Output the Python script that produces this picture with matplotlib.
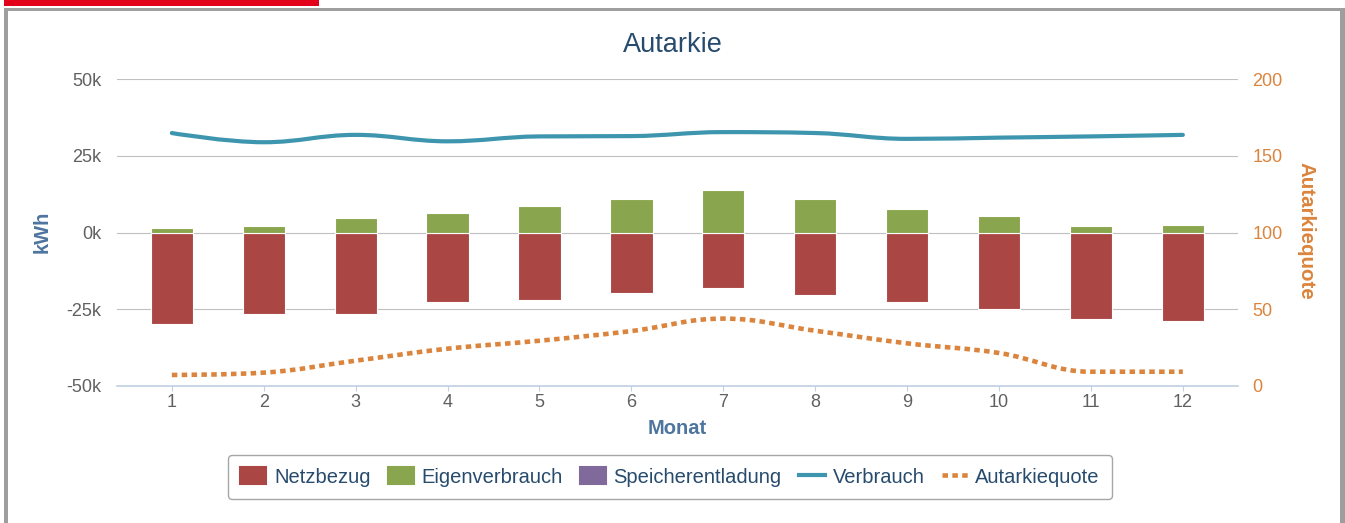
import matplotlib
matplotlib.use("Agg")
import matplotlib.pyplot as plt
from matplotlib.path import Path
from matplotlib.patches import PathPatch, Patch, Rectangle
from matplotlib.lines import Line2D
from matplotlib.ticker import FuncFormatter

# data (kWh per month, Autarkiequote in %)
months = [1, 2, 3, 4, 5, 6, 7, 8, 9, 10, 11, 12]
netzbezug = [-29800, -26400, -26400, -22500, -21900, -19600, -18100, -20300, -22500, -24900, -28200, -28700]
eigenverbrauch = [1400, 2000, 4800, 6400, 8700, 11000, 13700, 10900, 7600, 5300, 2000, 2500]
speicherentladung = [0, 0, 0, 0, 0, 0, 0, 0, 0, 0, 0, 0]
verbrauch = [32400, 29400, 31800, 29700, 31300, 31400, 32700, 32400, 30500, 30900, 31300, 31800]
autarkiequote = [7.2, 8.7, 16.5, 24.3, 29.5, 35.8, 43.9, 36.0, 27.8, 21.5, 9.3, 9.3]

C_NETZ = "#aa4643"
C_EIGEN = "#89a54e"
C_SPEICHER = "#80699b"
C_VERB = "#3d96ae"
C_AUT = "#db843d"
C_TEXT = "#274b6d"
C_AXTITLE = "#4d759e"

plt.rcParams['font.family'] = ['Liberation Sans', 'DejaVu Sans']

W, H = 1345, 523


def spline_path(xs, ys, smoothing=1.5):
    """bezier path through the points, like a highcharts spline"""
    denom = smoothing + 1
    n = len(xs)
    right = [(xs[i], ys[i]) for i in range(n)]
    verts = [(xs[0], ys[0])]
    codes = [Path.MOVETO]
    for i in range(1, n):
        x, y = xs[i], ys[i]
        lx, ly = x, y
        if i < n - 1:
            px, py = xs[i - 1], ys[i - 1]
            nx, ny = xs[i + 1], ys[i + 1]
            lx = (smoothing * x + px) / denom
            ly = (smoothing * y + py) / denom
            rx = (smoothing * x + nx) / denom
            ry = (smoothing * y + ny) / denom
            corr = ((ry - ly) * (rx - x)) / (rx - lx) + y - ry
            ly += corr
            ry += corr
            # no false extremes
            if ly > py and ly > y:
                ly = max(py, y)
                ry = 2 * y - ly
            elif ly < py and ly < y:
                ly = min(py, y)
                ry = 2 * y - ly
            if ry > ny and ry > y:
                ry = max(ny, y)
                ly = 2 * y - ry
            elif ry < ny and ry < y:
                ry = min(ny, y)
                ly = 2 * y - ry
            right[i] = (rx, ry)
        verts += [right[i - 1], (lx, ly), (x, y)]
        codes += [Path.CURVE4] * 3
    return Path(verts, codes)


fig = plt.figure(figsize=(W / 100, H / 100), dpi=100)

# frame decorations
fig.add_artist(Rectangle((4 / W, 1 - 6 / H), 315 / W, 6 / H, transform=fig.transFigure,
                         facecolor="#e2001a", edgecolor="none"))
fig.add_artist(Rectangle((4 / W, 0), 4 / W, 1 - 8 / H, transform=fig.transFigure,
                         facecolor="#9e9e9e", edgecolor="none"))
fig.add_artist(Rectangle((4 / W, 1 - 11 / H), (1345 - 4) / W, 3 / H, transform=fig.transFigure,
                         facecolor="#9e9e9e", edgecolor="none"))
fig.add_artist(Rectangle((1340 / W, 0), 5 / W, 1 - 8 / H, transform=fig.transFigure,
                         facecolor="#9e9e9e", edgecolor="none"))

x0, x1 = 116.7, 1238
ytop, ybot = 79, 386
ax = fig.add_axes([x0 / W, 1 - ybot / H, (x1 - x0) / W, (ybot - ytop) / H])
ax2 = ax.twinx()

ax.set_xlim(0.4, 12.6)
ax.set_ylim(-50000, 50000)
ax2.set_ylim(0, 200)

ax.set_axisbelow(True)
ax.grid(axis="y", color="#c0c0c0", linewidth=0.8)
for s in ["top", "left", "right"]:
    ax.spines[s].set_visible(False)
    ax2.spines[s].set_visible(False)
ax2.spines["bottom"].set_visible(False)
ax.spines["bottom"].set_color("#c0d0e0")
ax.spines["bottom"].set_linewidth(1.2)

bw = 0.46
ax.bar(months, netzbezug, width=bw, color=C_NETZ, edgecolor="white", linewidth=0.8)
ax.bar(months, eigenverbrauch, width=bw, color=C_EIGEN, edgecolor="white", linewidth=0.8)
ax.bar(months, speicherentladung, width=bw, bottom=eigenverbrauch, color=C_SPEICHER, linewidth=0)

ax.add_patch(PathPatch(spline_path(months, verbrauch), fill=False, edgecolor=C_VERB,
                       linewidth=3.0, capstyle="round", joinstyle="round"))
ax2.add_patch(PathPatch(spline_path(months, autarkiequote), fill=False, edgecolor=C_AUT,
                        linewidth=3.3, linestyle=(0, (1.2, 0.95)), capstyle="butt"))

ax.set_yticks([-50000, -25000, 0, 25000, 50000])
ax.yaxis.set_major_formatter(FuncFormatter(lambda v, p: "%dk" % round(v / 1000)))
ax.tick_params(axis="y", length=0, pad=11, labelsize=13, labelcolor="#606060")
ax2.set_yticks([0, 50, 100, 150, 200])
ax2.tick_params(axis="y", length=0, pad=10.5, labelsize=13, labelcolor=C_AUT)
ax.set_xticks(months)
ax.tick_params(axis="x", length=3.6, width=0.8, color="#c0d0e0", pad=2.5,
               labelsize=13, labelcolor="#606060")

# texts
fig.text(673 / W, 1 - 45 / H, "Autarkie", ha="center", va="center", fontsize=19.5, color=C_TEXT)
fig.text(41.7 / W, 1 - 232 / H, "kWh", ha="center", va="center", rotation=90,
         fontsize=14.5, fontweight="bold", color=C_AXTITLE)
fig.text(1306 / W, 1 - 231 / H, "Autarkiequote", ha="center", va="center", rotation=-90,
         fontsize=14.8, fontweight="bold", color=C_AUT)
fig.text(677 / W, 1 - 429 / H, "Monat", ha="center", va="center",
         fontsize=14.5, fontweight="bold", color=C_AXTITLE)

handles = [
    Patch(facecolor=C_NETZ, edgecolor=C_NETZ, linewidth=1.5, joinstyle="round", label="Netzbezug"),
    Patch(facecolor=C_EIGEN, edgecolor=C_EIGEN, linewidth=1.5, joinstyle="round", label="Eigenverbrauch"),
    Patch(facecolor=C_SPEICHER, edgecolor=C_SPEICHER, linewidth=1.5, joinstyle="round",
          label="Speicherentladung"),
    Line2D([], [], color=C_VERB, linewidth=3.0, label="Verbrauch"),
    Line2D([], [], color=C_AUT, linewidth=3.3, linestyle=(0, (1.2, 0.95)), label="Autarkiequote"),
]
leg = fig.legend(handles=handles, loc="center", bbox_to_anchor=(670 / W, 1 - 477 / H),
                 ncol=5, frameon=True, fancybox=True, fontsize=14.5, labelcolor=C_TEXT,
                 handlelength=1.3, handleheight=0.9, handletextpad=0.38, columnspacing=0.85,
                 borderpad=0.6)
leg.get_frame().set_edgecolor("#909090")
leg.get_frame().set_linewidth(1.0)

fig.savefig("out.png", dpi=100)
